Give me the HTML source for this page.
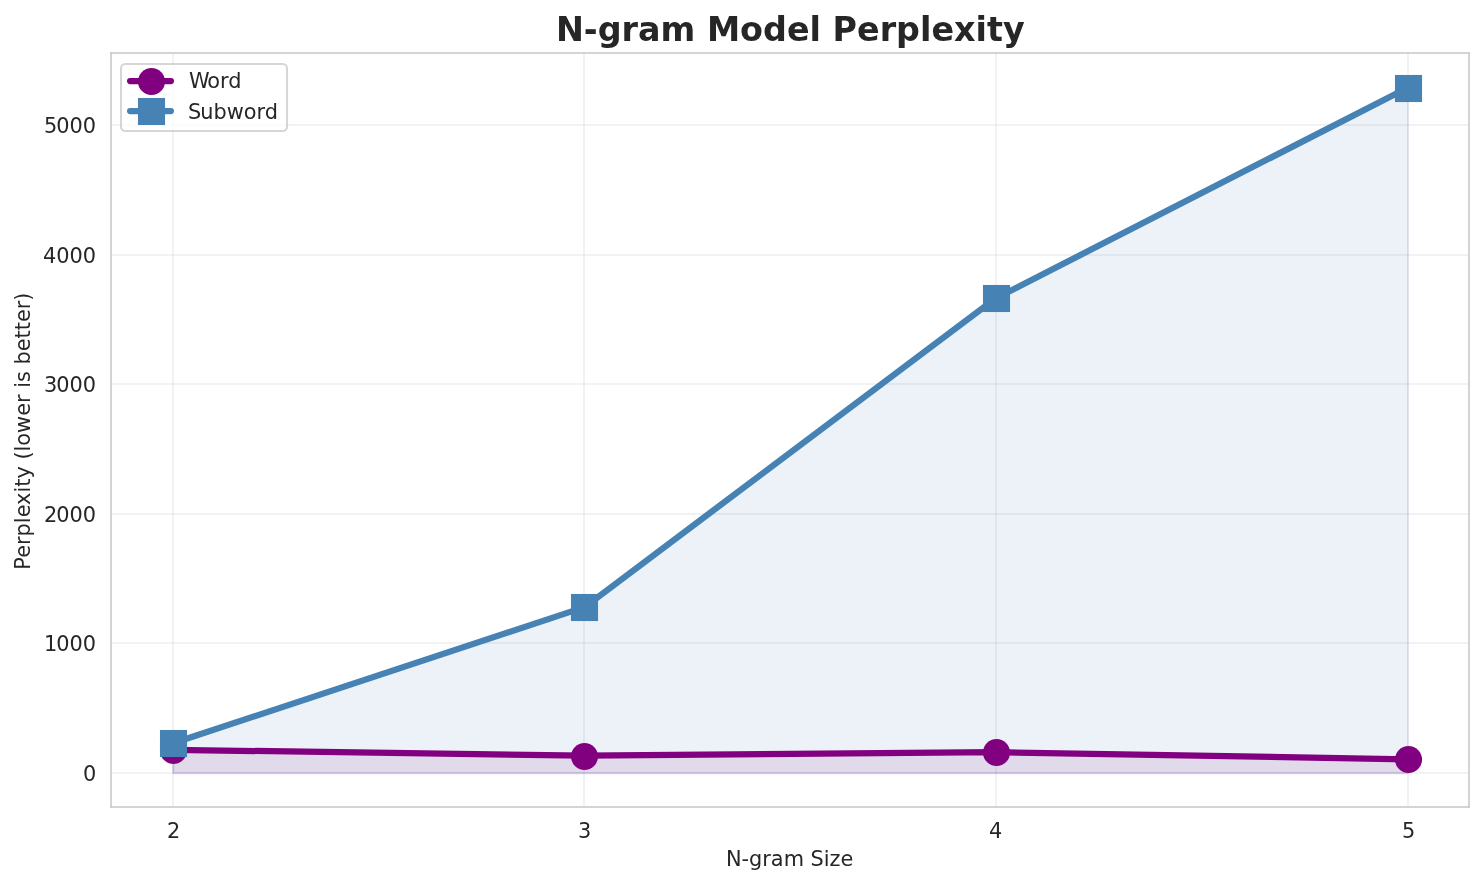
<!DOCTYPE html>
<html lang="en"><head><meta charset="utf-8"><title>N-gram Model Perplexity</title>
<style>html,body{margin:0;padding:0;background:#fff}body{width:1484px;height:885px;overflow:hidden}svg{display:block}text{font-family:"DejaVu Sans","Liberation Sans",sans-serif;fill:#262626}</style></head><body>
<svg width="1484" height="885" viewBox="0 0 1484 885">
<rect width="1484" height="885" fill="#fff"/>
<g fill="#ccc" fill-opacity="0.255" shape-rendering="crispEdges">
<rect x="172" y="53" width="2" height="754"/>
<rect x="583" y="53" width="2" height="754"/>
<rect x="995" y="53" width="2" height="754"/>
<rect x="1407" y="53" width="2" height="754"/>
<rect x="111" y="772" width="1358" height="2"/>
<rect x="111" y="642" width="1358" height="2"/>
<rect x="111" y="513" width="1358" height="2"/>
<rect x="111" y="383" width="1358" height="2"/>
<rect x="111" y="254" width="1358" height="2"/>
<rect x="111" y="124" width="1358" height="2"/>
</g>
<polygon points="173.15,773.20 173.15,750.27 584.78,755.97 996.42,752.60 1408.05,759.73 1408.05,773.20" fill="#800080" fill-opacity="0.1" stroke="#800080" stroke-opacity="0.1" stroke-width="2.083" stroke-linejoin="round"/>
<polygon points="173.15,773.20 173.15,743.67 584.78,607.53 996.42,298.48 1408.05,88.12 1408.05,773.20" fill="#4682b4" fill-opacity="0.1" stroke="#4682b4" stroke-opacity="0.1" stroke-width="2.083" stroke-linejoin="round"/>
<polyline points="172.85,749.87 584.48,755.57 996.12,752.20 1407.75,759.33" fill="none" stroke="#800080" stroke-width="6.250" stroke-linecap="round" stroke-linejoin="round"/>
<circle cx="173.50" cy="750.50" r="13.542" fill="#800080"/>
<circle cx="584.50" cy="756.50" r="13.542" fill="#800080"/>
<circle cx="996.50" cy="752.50" r="13.542" fill="#800080"/>
<circle cx="1408.50" cy="759.50" r="13.542" fill="#800080"/>
<polyline points="172.85,743.27 584.48,607.13 996.12,298.08 1407.75,87.72" fill="none" stroke="#4682b4" stroke-width="6.250" stroke-linecap="round" stroke-linejoin="round"/>
<rect x="159.96" y="729.96" width="27.083" height="27.083" fill="#4682b4"/>
<rect x="570.96" y="593.96" width="27.083" height="27.083" fill="#4682b4"/>
<rect x="982.96" y="284.96" width="27.083" height="27.083" fill="#4682b4"/>
<rect x="1394.96" y="74.96" width="27.083" height="27.083" fill="#4682b4"/>
<g fill="#ccc" fill-opacity="0.843" shape-rendering="crispEdges">
<rect x="110" y="52" width="2" height="756"/>
<rect x="1468" y="52" width="2" height="756"/>
<rect x="110" y="806" width="1360" height="2"/>
<rect x="110" y="52" width="1360" height="2"/>
</g>
<text x="790.30" y="41" font-size="33.375px" text-anchor="middle" font-weight="700">N-gram Model Perplexity</text>
<rect x="121" y="64" width="166" height="67" rx="4.17" fill="#fff" stroke="#ccc" stroke-width="2.083" opacity="0.8"/>
<line x1="130.10" y1="81.00" x2="170.90" y2="81.00" stroke="#800080" stroke-width="6.250" stroke-linecap="round"/>
<circle cx="151.50" cy="81.50" r="13.542" fill="#800080"/>
<line x1="130.10" y1="111.00" x2="170.90" y2="111.00" stroke="#4682b4" stroke-width="6.250" stroke-linecap="round"/>
<rect x="137.96" y="97.96" width="27.083" height="27.083" fill="#4682b4"/>
<text x="187.93" y="88" font-size="20.875px" text-anchor="start" dx="1 -1">Word</text>
<text x="186.93" y="119" font-size="20.875px" text-anchor="start" dx="1 -1">Subword</text>
<text x="173.60" y="838" font-size="20.875px" text-anchor="middle">2</text>
<text x="584.61" y="838" font-size="20.875px" text-anchor="middle">3</text>
<text x="995.62" y="838" font-size="20.875px" text-anchor="middle">4</text>
<text x="1408.63" y="838" font-size="20.875px" text-anchor="middle">5</text>
<text x="789.67" y="866" font-size="20.875px" text-anchor="middle">N-gram Size</text>
<text x="96.27" y="781" font-size="20.875px" text-anchor="end">0</text>
<text x="95.02" y="651" font-size="20.875px" text-anchor="end" dx="1 -1">1000</text>
<text x="95.02" y="522" font-size="20.875px" text-anchor="end" dx="1 -1">2000</text>
<text x="95.02" y="392" font-size="20.875px" text-anchor="end" dx="1 -1">3000</text>
<text x="96.02" y="263" font-size="20.875px" text-anchor="end">4000</text>
<text x="95.02" y="133" font-size="20.875px" text-anchor="end" dx="1 -1">5000</text>
<text x="30.00" y="431.09" font-size="20.875px" text-anchor="middle" transform="rotate(-90 30.00 431.09)">Perplexity (lower is better)</text>
</svg></body></html>
